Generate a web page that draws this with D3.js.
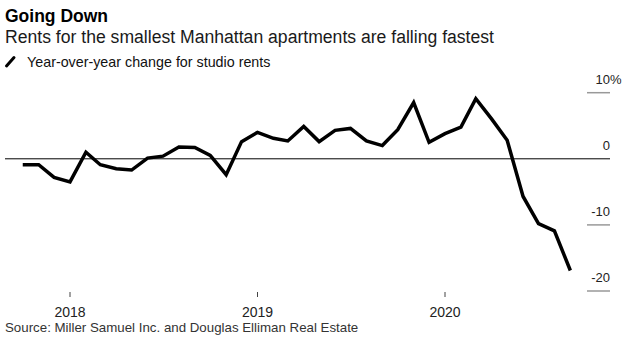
<!DOCTYPE html>
<html>
<head>
<meta charset="utf-8">
<script src="https://cdn.jsdelivr.net/npm/d3@7"></script>
<style>
  html, body { margin: 0; padding: 0; background: #fff; }
  svg { display: block; font-family: "Liberation Sans", Arial, sans-serif; }
</style>
</head>
<body>
<svg id="chart" width="627" height="345"></svg>
<script>
// Monthly series, Oct 2017 .. Sep 2020
const MONTHS = [
  "2017-10", "2017-11", "2017-12",
  "2018-01", "2018-02", "2018-03", "2018-04", "2018-05", "2018-06",
  "2018-07", "2018-08", "2018-09", "2018-10", "2018-11", "2018-12",
  "2019-01", "2019-02", "2019-03", "2019-04", "2019-05", "2019-06",
  "2019-07", "2019-08", "2019-09", "2019-10", "2019-11", "2019-12",
  "2020-01", "2020-02", "2020-03", "2020-04", "2020-05", "2020-06",
  "2020-07", "2020-08", "2020-09"
];
const STUDIO_CHANGE = [
  -0.9, -0.9, -2.8,
  -3.5, 1.0, -0.9, -1.5, -1.7, 0.1,
  0.4, 1.8, 1.7, 0.5, -2.4, 2.6,
  4.0, 3.1, 2.7, 4.9, 2.6, 4.3,
  4.6, 2.7, 2.0, 4.4, 8.5, 2.5,
  3.8, 4.8, 9.1, 6.0, 2.8, -5.7,
  -9.8, -10.9, -16.9
];
const Y_TICKS = [10, 0, -10, -20];
const X_TICKS = ["2018", "2019", "2020"];

const parseMonth = d3.timeParse("%Y-%m");
const data = MONTHS.map((m, i) => ({ date: parseMonth(m), value: STUDIO_CHANGE[i] }));

const svg = d3.select("#chart");

const x = d3.scaleTime()
  .domain([new Date(2018, 0, 1), new Date(2020, 0, 1)])
  .range([70, 445]);
const y = d3.scaleLinear()
  .domain([-20, 10])
  .range([291, 92.7]);

// Header
svg.append("text")
  .attr("x", 5).attr("y", 22)
  .style("font-size", "17.5px").style("font-weight", "bold")
  .attr("fill", "#000")
  .text("Going Down");
svg.append("text")
  .attr("x", 5).attr("y", 43)
  .style("font-size", "17.6px")
  .attr("fill", "#1a1a1a")
  .text("Rents for the smallest Manhattan apartments are falling fastest");

// Legend
svg.append("line")
  .attr("x1", 6.5).attr("y1", 66).attr("x2", 14).attr("y2", 57.5)
  .attr("stroke", "#000").attr("stroke-width", 3).attr("stroke-linecap", "round");
svg.append("text")
  .attr("x", 27).attr("y", 66.5)
  .style("font-size", "14.3px")
  .attr("fill", "#111")
  .text("Year-over-year change for studio rents");

// Right-hand value ticks
const yTicks = svg.append("g").attr("class", "y-ticks")
  .selectAll("g")
  .data(Y_TICKS).enter()
  .append("g")
    .attr("transform", d => `translate(0,${y(d)})`);
yTicks.filter(d => d !== 0)
  .append("line")
    .attr("x1", 587).attr("x2", 610)
    .attr("stroke", "#999").attr("stroke-width", 1.5);
yTicks.append("text")
  .attr("x", 610).attr("y", -9)
  .attr("text-anchor", "end")
  .style("font-size", "13px")
  .attr("fill", "#222")
  .text(d => d);
yTicks.filter(d => d === d3.max(Y_TICKS))
  .append("text")
    .attr("x", 610).attr("y", -9)
    .style("font-size", "13px")
    .attr("fill", "#222")
    .text("%");

// Zero baseline
svg.append("line")
  .attr("x1", 5).attr("x2", 610)
  .attr("y1", y(0)).attr("y2", y(0))
  .attr("stroke", "#000").attr("stroke-width", 1);

// Year ticks along the bottom
const xTicks = svg.append("g").attr("class", "x-ticks")
  .selectAll("g")
  .data(X_TICKS).enter()
  .append("g")
    .attr("transform", d => `translate(${x(new Date(+d, 0, 1))},0)`);
xTicks.append("line")
  .attr("y1", 292).attr("y2", 297)
  .attr("stroke", "#444").attr("stroke-width", 1);
xTicks.append("text")
  .attr("y", 316.5)
  .attr("text-anchor", "middle")
  .style("font-size", "14px")
  .attr("fill", "#222")
  .text(d => d);

// Studio rent line
svg.append("path")
  .datum(data)
  .attr("fill", "none")
  .attr("stroke", "#000")
  .attr("stroke-width", 3.5)
  .attr("stroke-linejoin", "miter")
  .attr("d", d3.line().x(d => x(d.date)).y(d => y(d.value)));

// Source line
svg.append("text")
  .attr("x", 5).attr("y", 331.5)
  .style("font-size", "13.3px")
  .attr("fill", "#333")
  .text("Source: Miller Samuel Inc. and Douglas Elliman Real Estate");
</script>
</body>
</html>
